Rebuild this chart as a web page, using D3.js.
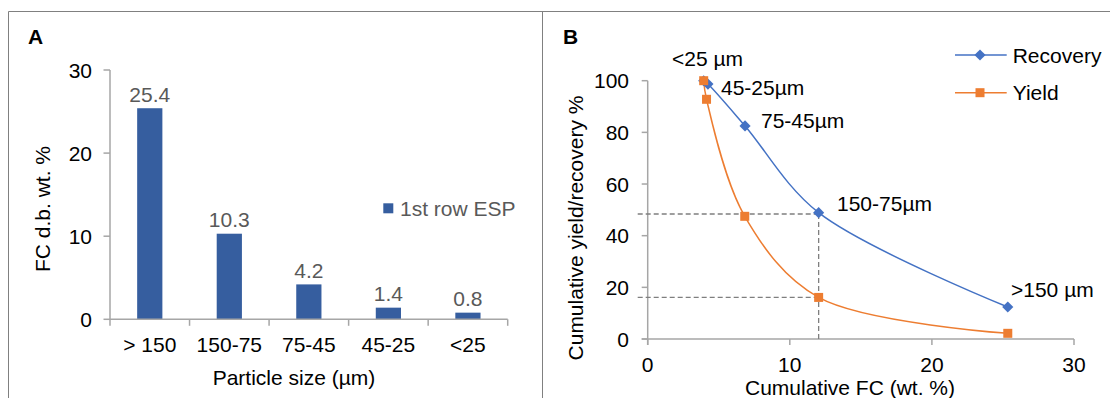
<!DOCTYPE html>
<html><head><meta charset="utf-8">
<script src="https://cdn.jsdelivr.net/npm/d3@7"></script>
<style>
body{margin:0;background:#fff;}
svg{display:block;font-family:"Liberation Sans",Arial,sans-serif;}
</style></head>
<body>
<svg id="chart" width="1110" height="398"></svg>
<script>
// Panel A data
const sizeCategories = ["> 150","150-75","75-45","45-25","<25"];
const fcValues = [25.4, 10.3, 4.2, 1.4, 0.8];
const fcLabels = ["25.4","10.3","4.2","1.4","0.8"];
const yTicksA = [0,10,20,30];
const barSeriesName = "1st row ESP";

// Panel B data
const pointLabels = ["<25 µm","45-25µm","75-45µm","150-75µm",">150 µm"];
const cumFC_recovery = [3.94, 4.24, 6.85, 12.03, 25.34];
const recovery = [100, 98.7, 82.5, 48.9, 12.4];
const cumFC_yield = [3.94, 4.14, 6.83, 12.03, 25.34];
const yieldVals = [100, 92.8, 47.5, 16.1, 2.2];
const xTicksB = [0,10,20,30];
const yTicksB = [0,20,40,60,80,100];
const refX = 12.03;
const refY = [48.4, 16.1];

const svg = d3.select("#chart");
const FS = 21;
const axisCol = "#a6a6a6";

// frame
svg.append("line").attr("x1",8.5).attr("x2",1110).attr("y1",11.5).attr("y2",11.5).attr("stroke","#808080").attr("stroke-width",1);
svg.append("line").attr("x1",8.5).attr("x2",8.5).attr("y1",11.5).attr("y2",398).attr("stroke","#808080").attr("stroke-width",1);
svg.append("line").attr("x1",542.5).attr("x2",542.5).attr("y1",11.5).attr("y2",398).attr("stroke","#808080").attr("stroke-width",1);

// ---------- Panel A ----------
const xA = d3.scaleBand().domain(sizeCategories).range([110,507.7]).paddingInner(0.683).paddingOuter(0.3415);
const xAband = d3.scaleBand().domain(sizeCategories).range([110,507.7]);
const yA = d3.scaleLinear().domain([0,30]).range([319.3,70]);

svg.append("text").attr("x",28).attr("y",43.5).attr("font-size",FS).attr("font-weight","bold").text("A");

const gA = svg.append("g");
gA.selectAll("rect.bar").data(fcValues).join("rect")
  .attr("x",(d,i)=>xA(sizeCategories[i])).attr("width",xA.bandwidth())
  .attr("y",d=>yA(d)).attr("height",d=>yA(0)-yA(d)).attr("fill","#365e9f");
gA.selectAll("text.lbl").data(fcValues).join("text")
  .attr("x",(d,i)=>xA(sizeCategories[i])+xA.bandwidth()/2).attr("y",d=>yA(d)-6.5)
  .attr("text-anchor","middle").attr("font-size",FS).attr("fill","#595959").text((d,i)=>fcLabels[i]);

// y axis A
gA.append("line").attr("x1",110).attr("x2",110).attr("y1",yA(30)).attr("y2",yA(0)).attr("stroke",axisCol).attr("stroke-width",1.5);
yTicksA.forEach(t=>{
  gA.append("line").attr("x1",103.5).attr("x2",110).attr("y1",yA(t)).attr("y2",yA(t)).attr("stroke",axisCol).attr("stroke-width",1.5);
  gA.append("text").attr("x",92).attr("y",yA(t)).attr("dy","0.36em").attr("text-anchor","end").attr("font-size",FS).attr("fill","#000").text(t);
});
// x axis A
gA.append("line").attr("x1",110).attr("x2",507.7).attr("y1",yA(0)).attr("y2",yA(0)).attr("stroke",axisCol).attr("stroke-width",1.5);
const bTicks = sizeCategories.map(c=>xAband(c)).concat([507.7]);
bTicks.forEach(x=>{
  gA.append("line").attr("x1",x).attr("x2",x).attr("y1",yA(0)).attr("y2",yA(0)+6.5).attr("stroke",axisCol).attr("stroke-width",1.5);
});
sizeCategories.forEach(c=>{
  gA.append("text").attr("x",xAband(c)+xAband.bandwidth()/2).attr("y",352).attr("text-anchor","middle").attr("font-size",FS).attr("fill","#000").text(c);
});
gA.append("text").attr("x",294).attr("y",385).attr("text-anchor","middle").attr("font-size",FS).text("Particle size (µm)");
gA.append("text").attr("transform","translate(50,209) rotate(-90)").attr("text-anchor","middle").attr("font-size",FS).text("FC d.b. wt. %");
// legend A
gA.append("rect").attr("x",383.3).attr("y",203.3).attr("width",10).attr("height",10).attr("fill","#365e9f");
gA.append("text").attr("x",400).attr("y",215.5).attr("font-size",FS).attr("fill","#595959").text(barSeriesName);

// ---------- Panel B ----------
const xB = d3.scaleLinear().domain([0,30]).range([647.7,1074]);
const yB = d3.scaleLinear().domain([0,100]).range([339,80.7]);
const gB = svg.append("g");
svg.append("text").attr("x",563).attr("y",43.5).attr("font-size",FS).attr("font-weight","bold").text("B");

// axes
gB.append("line").attr("x1",xB(0)).attr("x2",xB(0)).attr("y1",yB(100)).attr("y2",yB(0)+6).attr("stroke",axisCol).attr("stroke-width",1.5);
yTicksB.forEach(t=>{
  gB.append("line").attr("x1",xB(0)-6).attr("x2",xB(0)).attr("y1",yB(t)).attr("y2",yB(t)).attr("stroke",axisCol).attr("stroke-width",1.5);
  gB.append("text").attr("x",629).attr("y",yB(t)).attr("dy","0.36em").attr("text-anchor","end").attr("font-size",FS).text(t);
});
gB.append("line").attr("x1",xB(0)-6).attr("x2",xB(30)).attr("y1",yB(0)).attr("y2",yB(0)).attr("stroke",axisCol).attr("stroke-width",1.5);
xTicksB.forEach(t=>{
  gB.append("line").attr("x1",xB(t)).attr("x2",xB(t)).attr("y1",yB(0)).attr("y2",yB(0)+6).attr("stroke",axisCol).attr("stroke-width",1.5);
  gB.append("text").attr("x",xB(t)).attr("y",372).attr("text-anchor","middle").attr("font-size",FS).text(t);
});
gB.append("text").attr("x",850).attr("y",395).attr("text-anchor","middle").attr("font-size",FS).text("Cumulative FC (wt. %)");
gB.append("text").attr("transform","translate(583,228) rotate(-90)").attr("text-anchor","middle").attr("font-size",FS).text("Cumulative yield/recovery %");

// dashed reference lines
refY.forEach(v=>{
  gB.append("line").attr("x1",xB(0)-10).attr("x2",xB(refX)).attr("y1",yB(v)).attr("y2",yB(v)).attr("stroke","#7f7f7f").attr("stroke-width",1.3).attr("stroke-dasharray","5,3");
});
gB.append("line").attr("x1",xB(refX)).attr("x2",xB(refX)).attr("y1",yB(refY[0])).attr("y2",yB(0)).attr("stroke","#7f7f7f").attr("stroke-width",1.3).attr("stroke-dasharray","5,3");

const line = d3.line().x(d=>xB(d[0])).y(d=>yB(d[1])).curve(d3.curveCatmullRom.alpha(0.5));
const recPts = cumFC_recovery.map((x,i)=>[x,recovery[i]]);
const yldPts = cumFC_yield.map((x,i)=>[x,yieldVals[i]]);
gB.append("path").attr("d",line(recPts)).attr("fill","none").attr("stroke","#4472c4").attr("stroke-width",1.5);
gB.append("path").attr("d",line(yldPts)).attr("fill","none").attr("stroke","#ed7d31").attr("stroke-width",1.5);

const diamond = d3.symbol().type(d3.symbolSquare).size(62);
gB.selectAll("path.rec").data(recPts).join("path")
  .attr("d",diamond).attr("transform",d=>`translate(${xB(d[0])},${yB(d[1])}) rotate(45)`).attr("fill","#4472c4");
gB.selectAll("rect.yld").data(yldPts).join("rect")
  .attr("x",d=>xB(d[0])-4.5).attr("y",d=>yB(d[1])-4.5).attr("width",9).attr("height",9).attr("fill","#ed7d31");

// point labels
const labelPos = [[672,66],[721,95],[761,128],[837,211],[1011,297]];
pointLabels.forEach((t,i)=>{
  gB.append("text").attr("x",labelPos[i][0]).attr("y",labelPos[i][1]).attr("font-size",FS).text(t);
});

// legend B
gB.append("line").attr("x1",955).attr("x2",1006.7).attr("y1",55).attr("y2",55).attr("stroke","#4472c4").attr("stroke-width",1.5);
gB.append("path").attr("d",diamond).attr("transform","translate(980,55) rotate(45)").attr("fill","#4472c4");
gB.append("text").attr("x",1012.7).attr("y",62.5).attr("font-size",FS).text("Recovery");
gB.append("line").attr("x1",955).attr("x2",1006.7).attr("y1",92.7).attr("y2",92.7).attr("stroke","#ed7d31").attr("stroke-width",1.5);
gB.append("rect").attr("x",975.5).attr("y",88.2).attr("width",9).attr("height",9).attr("fill","#ed7d31");
gB.append("text").attr("x",1012.7).attr("y",100).attr("font-size",FS).text("Yield");
</script>
</body></html>
